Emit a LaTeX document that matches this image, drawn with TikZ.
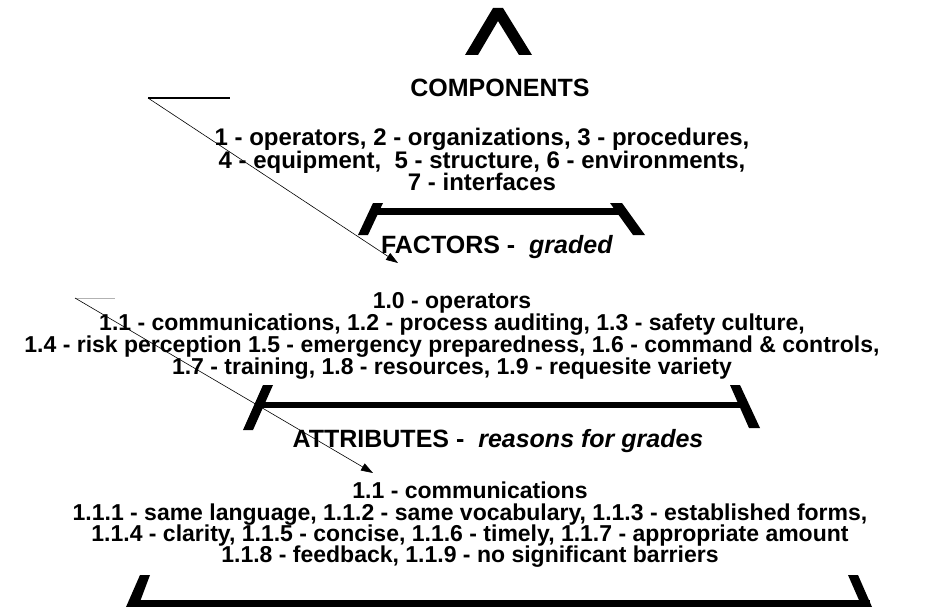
\documentclass[tikz,border=0pt]{standalone}
\usepackage{fontspec}
\setmainfont{Liberation Sans}
\usetikzlibrary{arrows.meta}
\tikzset{
  txt/.style={anchor=base, inner sep=0pt, font=\bfseries\fontsize{23}{22}\selectfont},
  ctxt/.style={txt, font=\bfseries\fontsize{24}{22}\selectfont},
  head/.style={txt, font=\bfseries\fontsize{25}{22}\selectfont},
  band/.style={fill=black, draw=none},
  pointer/.style={-{Triangle[length=12pt,width=8pt]}, line width=0.6pt},
}
\begin{document}
\begin{tikzpicture}[x=1pt,y=-1pt]
\useasboundingbox (0,0) rectangle (939,607);
% apex
\fill[band] (465,55) -- (493,8) -- (503,8) -- (532,55) -- (519,55) -- (498,21) -- (478,55) -- cycle;
% band 1
\fill[band] (375,208) rectangle (620,215);
\fill[band] (373,203) -- (383,203) -- (368,235) -- (358,235) -- cycle;
\fill[band] (610,203) -- (622,203) -- (645,235) -- (633,235) -- cycle;
% band 2
\fill[band] (262,402) rectangle (740,408);
\fill[band] (263,385) -- (273,385) -- (253,430) -- (243,430) -- cycle;
\fill[band] (730,385) -- (740,385) -- (760,428) -- (749,428) -- cycle;
% band 3
\fill[band] (135,600) rectangle (870,607);
\fill[band] (140,575) -- (150,575) -- (138,607) -- (126,607) -- cycle;
\fill[band] (848,575) -- (858,575) -- (872,607) -- (862,607) -- cycle;

% texts
\node[head] (comp) at (500,97) {COMPONENTS};
\node[ctxt] (c1) at (482,146) {1 - operators, 2 - organizations, 3 - procedures,};
\node[ctxt] (c2) at (482,168) {4 - equipment,\ \ 5 - structure, 6 - environments,};
\node[ctxt] (c3) at (482,190) {7 - interfaces};
\node[head] (fact) at (497,253) {FACTORS -\ \ \textit{graded}};
\node[txt] (f0) at (452,308) {1.0 - operators};
\node[txt] (f1) at (452,330) {1.1 - communications, 1.2 - process auditing, 1.3 - safety culture,};
\node[txt] (f2) at (452,352) {1.4 - risk perception 1.5 - emergency preparedness, 1.6 - command \& controls,};
\node[txt] (f3) at (452,374) {1.7 - training, 1.8 - resources, 1.9 - requesite variety};
\node[head] (attr) at (498,447) {ATTRIBUTES -\ \ \textit{reasons for grades}};
\node[txt] (a0) at (470,498) {1.1 - communications};
\node[txt] (a1) at (470,520) {1.1.1 - same language, 1.1.2 - same vocabulary, 1.1.3 - established forms,};
\node[txt] (a2) at (470,541) {1.1.4 - clarity, 1.1.5 - concise, 1.1.6 - timely, 1.1.7 - appropriate amount};
\node[txt] (a3) at (470,562) {1.1.8 - feedback, 1.1.9 - no significant barriers};

% pointers
\coordinate (p1s) at (148,98);
\coordinate (p1e) at (230,98);
\coordinate (p1t) at (398,263);
\draw[line width=1.5pt] (p1s) -- (p1e);
\draw[pointer] (p1s) -- (p1t);
\coordinate (p2s) at (75,298);
\coordinate (p2e) at (115,298);
\coordinate (p2t) at (373,473);
\draw[line width=0.8pt, gray!60] (p2s) -- (p2e);
\draw[pointer] (p2s) -- (p2t);
\end{tikzpicture}
\end{document}
